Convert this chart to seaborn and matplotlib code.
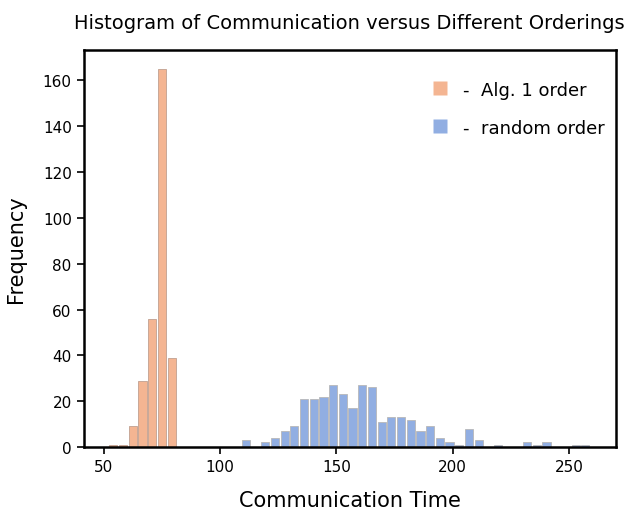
import numpy as np
import pandas as pd
import matplotlib
matplotlib.use("Agg")
import matplotlib.pyplot as plt
import seaborn as sns

# Counts per bin
alg1_counts = [1, 1, 9, 29, 56, 165, 39]
alg1_range = (52.0, 81.3)

random_counts = [3, 0, 2, 4, 7, 9, 21, 21, 22, 27, 23, 17, 27, 26, 11, 13, 13, 12,
                 7, 9, 4, 2, 1, 8, 3, 0, 1, 0, 0, 2, 1, 2, 0, 0, 1, 1]
random_range = (109.0, 259.1)

series_labels = ["-  Alg. 1 order", "-  random order"]


def to_frame(counts, rng, label):
    edges = np.linspace(rng[0], rng[1], len(counts) + 1)
    centers = (edges[:-1] + edges[1:]) / 2
    return pd.DataFrame({"time": centers, "count": counts, "order": label})


df_alg = to_frame(alg1_counts, alg1_range, series_labels[0])
df_rnd = to_frame(random_counts, random_range, series_labels[1])

sns.set_style("white")
plt.rcParams["font.family"] = ["DejaVu Sans"]
plt.rcParams["text.color"] = "black"
plt.rcParams["axes.labelcolor"] = "black"
plt.rcParams["xtick.color"] = "black"
plt.rcParams["ytick.color"] = "black"
pal = sns.color_palette("muted")

fig = plt.figure(figsize=(6.37, 5.1), dpi=100)
ax = fig.add_axes([83.5 / 637, 1 - 448 / 510, (616 - 83.5) / 637, (448 - 51) / 510])

sns.histplot(data=df_alg, x="time", weights="count", bins=len(alg1_counts),
             binrange=alg1_range, shrink=0.85,
             color=pal[1], alpha=0.6, edgecolor="#c0a090", linewidth=0.6, ax=ax)
sns.histplot(data=df_rnd, x="time", weights="count", bins=len(random_counts),
             binrange=random_range, shrink=0.85,
             color=pal[0], alpha=0.6, edgecolor="#b8b8b8", linewidth=0.6, ax=ax)

ax.set_xlim(41.3, 270.2)
ax.set_ylim(0, 173.25)
ax.set_xticks([50, 100, 150, 200, 250])
ax.set_yticks(range(0, 161, 20))
ax.tick_params(axis="both", which="both", direction="out", length=5, width=1.2,
               labelsize=11, bottom=True, left=True)
for sp in ax.spines.values():
    sp.set_linewidth(1.8)
    sp.set_color("black")

ax.set_title("Histogram of Communication versus Different Orderings", fontsize=14, pad=16)
ax.set_xlabel("Communication Time", fontsize=15, labelpad=12)
ax.set_ylabel("Frequency", fontsize=15, labelpad=12)

handles = [plt.Line2D([], [], marker="s", linestyle="", markersize=10,
                      markerfacecolor=pal[i], markeredgecolor="none", alpha=0.6)
           for i in (1, 0)]
ax.legend(handles, series_labels, loc="upper right", bbox_to_anchor=(1.0, 0.95),
          frameon=False, fontsize=13, handletextpad=0.3, labelspacing=1.1,
          borderaxespad=0.2)

fig.savefig("out.png", dpi=100)
